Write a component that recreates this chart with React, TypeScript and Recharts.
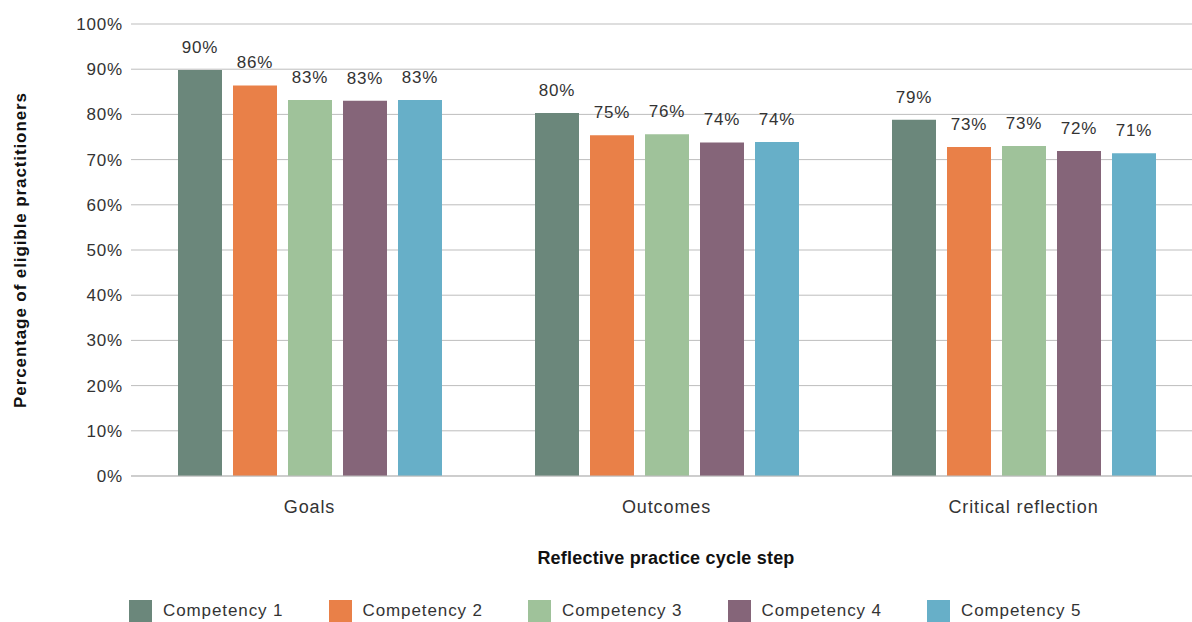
import React from 'react';
import { BarChart, Bar, XAxis, YAxis, CartesianGrid, Legend, LabelList } from 'recharts';

const steps = ['Goals', 'Outcomes', 'Critical reflection'];
const competency1 = [89.8, 80.3, 78.8];
const competency2 = [86.4, 75.4, 72.8];
const competency3 = [83.2, 75.6, 73.0];
const competency4 = [83.0, 73.8, 71.9];
const competency5 = [83.2, 73.9, 71.4];
const yTicks = [0, 10, 20, 30, 40, 50, 60, 70, 80, 90, 100];

const seriesNames = ['Competency 1', 'Competency 2', 'Competency 3', 'Competency 4', 'Competency 5'];
const COLORS = ['#6b877b', '#e98048', '#9fc29a', '#856579', '#67afc8'];

const data = steps.map((step, i) => ({
  step,
  c1: competency1[i],
  c2: competency2[i],
  c3: competency3[i],
  c4: competency4[i],
  c5: competency5[i]
}));

const FONT = '"Liberation Sans", Arial, sans-serif';
const TEXT = '#333333';

// fixed-spaced legend along the bottom, like the original
const LegendRow = () => (
  <div style={{ position: 'relative', height: 30, fontFamily: FONT }}>
    {seriesNames.map((name, i) => (
      <div
        key={name}
        style={{ position: 'absolute', left: 129 + i * 199.5, top: 8, display: 'flex', alignItems: 'center' }}
      >
        <span style={{ width: 23, height: 22, background: COLORS[i], display: 'inline-block' }} />
        <span style={{ marginLeft: 11, fontSize: 17, color: TEXT, letterSpacing: 0.9 }}>{name}</span>
      </div>
    ))}
  </div>
);

const YTitle = ({ viewBox }: any) => {
  const cy = viewBox.y + viewBox.height / 2;
  return (
    <text
      x={20}
      y={cy}
      transform={`rotate(-90 20 ${cy})`}
      textAnchor="middle"
      dominantBaseline="central"
      style={{ fontFamily: FONT, fontSize: 17, fontWeight: 700, fill: '#111', letterSpacing: 0.9 }}
    >
      Percentage of eligible practitioners
    </text>
  );
};

const XTitle = () => (
  <text
    x={666}
    y={558}
    textAnchor="middle"
    dominantBaseline="central"
    style={{ fontFamily: FONT, fontSize: 18, fontWeight: 700, fill: '#111', letterSpacing: 0.2 }}
  >
    Reflective practice cycle step
  </text>
);

export default function App() {
  const keys = ['c1', 'c2', 'c3', 'c4', 'c5'];
  return (
    <div style={{ position: 'absolute', left: 0, top: 0, width: 1192, height: 622, overflow: 'hidden', background: '#fff' }}>
      <BarChart
        width={1202}
        height={622}
        data={data}
        margin={{ top: 24, right: 0, left: 0, bottom: 0 }}
        barSize={44}
        barGap={11}
      >
        <CartesianGrid vertical={false} stroke="#bdbdbd" strokeWidth={1} />
        <XAxis
          dataKey="step"
          height={116}
          tickLine={false}
          axisLine={{ stroke: '#bdbdbd' }}
          tickMargin={18}
          tick={{ fontFamily: FONT, fontSize: 18, fill: TEXT, letterSpacing: 0.9 }}
          label={<XTitle />}
        />
        <YAxis
          width={131}
          domain={[0, 100]}
          ticks={yTicks}
          tickFormatter={(v: number) => `${v}%`}
          tickLine={false}
          axisLine={false}
          tick={{ fontFamily: FONT, fontSize: 17, fill: TEXT, letterSpacing: 0.8 }}
          label={<YTitle />}
        />
        <Legend verticalAlign="bottom" wrapperStyle={{ left: 0, width: 1192 }} content={<LegendRow />} />
        {keys.map((k, i) => (
          <Bar key={k} dataKey={k} name={seriesNames[i]} fill={COLORS[i]} isAnimationActive={false}>
            <LabelList
              dataKey={k}
              position="top"
              offset={17}
              formatter={(v: number) => `${Math.round(v)}%`}
              style={{ fontFamily: FONT, fontSize: 17, fill: TEXT, letterSpacing: 0.8 }}
            />
          </Bar>
        ))}
      </BarChart>
    </div>
  );
}
